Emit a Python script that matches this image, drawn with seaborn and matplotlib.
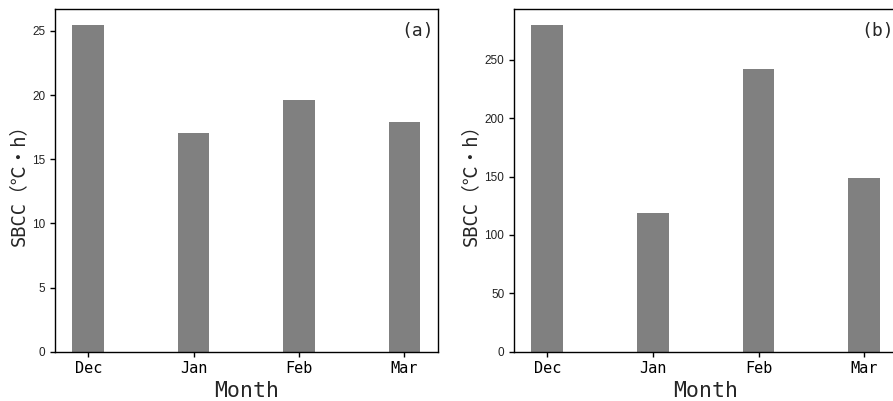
import matplotlib
matplotlib.use("Agg")
import matplotlib.pyplot as plt
import seaborn as sns
import pandas as pd

months = ["Dec", "Jan", "Feb", "Mar"]
sbcc_a = [25.44, 17.06, 19.65, 17.87]
sbcc_b = [279.6, 119.2, 241.9, 148.7]
panel_tags = ["(a)", "(b)"]
ylabel_text = "SBCC（℃・h）"
xlabel_text = "Month"

sns.set_style("ticks")
latin_cjk = ["DejaVu Sans Mono", "Noto Sans CJK SC"]
plt.rcParams["font.family"] = latin_cjk
plt.rcParams["axes.linewidth"] = 1.0
plt.rcParams["axes.edgecolor"] = "black"

W, H = 893, 401
fig = plt.figure(figsize=(W / 100, H / 100), dpi=100)

# axes boxes in pixels: left, right, top, bottom
boxes = [(55, 437.7, 9, 351.7), (514, 897.5, 9, 351.7)]

for box, vals, tag in zip(boxes, [sbcc_a, sbcc_b], panel_tags):
    l, r, t, b = box
    ax = fig.add_axes([l / W, 1 - b / H, (r - l) / W, (b - t) / H])
    df = pd.DataFrame({"month": months, "value": vals})
    sns.barplot(data=df, x="month", y="value", color="#808080",
                saturation=1, width=0.3, ax=ax, edgecolor="none")
    ax.set_xlim(-0.315, 3.315)
    ax.set_ylim(0, max(vals) * 1.05)
    ax.set_xlabel(xlabel_text, fontsize=15.5, family=latin_cjk, labelpad=3)
    ax.set_ylabel(ylabel_text, fontsize=13.5, family=latin_cjk, labelpad=3)
    ax.tick_params(axis="x", labelsize=11, length=3.5, width=1, colors="black")
    ax.tick_params(axis="y", length=3.5, width=1, colors="black")
    for lab in ax.get_yticklabels():
        lab.set_fontfamily("Liberation Sans")
        lab.set_fontsize(8.5)
        lab.set_color("#222222")
    for s in ax.spines.values():
        s.set_visible(True)
        s.set_color("black")
    ax.text(0.99, 0.937, tag, transform=ax.transAxes, ha="right", va="center",
            fontsize=13, family=latin_cjk)

fig.savefig("out.png", dpi=100)
